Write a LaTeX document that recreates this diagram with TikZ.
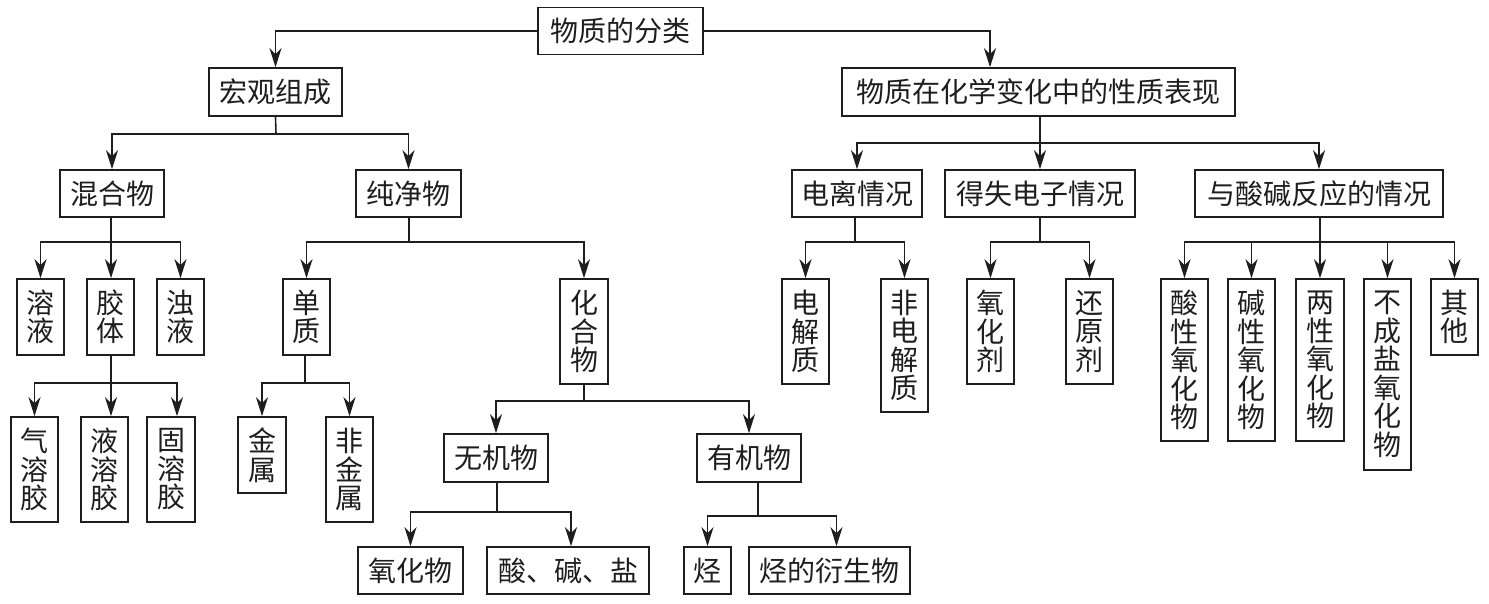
\documentclass[tikz,border=0pt]{standalone}
\usepackage{fontspec}
\setmainfont{Noto Sans CJK SC}
\usetikzlibrary{arrows.meta}
\definecolor{ink}{HTML}{1E1E1E}
\tikzset{
  box/.style={draw=ink, line width=1.6pt, inner sep=0pt, align=center, text=ink,
     font=\fontsize{28}{28.5}\selectfont},
  conn/.style={draw=ink, line width=1.6pt},
  arr/.style={conn, -{Stealth[length=19pt,width=12pt,inset=6pt]}},
}
\begin{document}
\begin{tikzpicture}[x=1pt,y=-1pt]
\useasboundingbox (0,0) rectangle (1489,604);
% nodes
\node[box, minimum width=165pt, minimum height=47pt] (root) at (620.5,31) {物质的分类};
\node[box, minimum width=133pt, minimum height=48pt] (hg) at (275.5,92) {宏观组成};
\node[box, minimum width=393pt, minimum height=48pt] (xz) at (1038.5,92) {物质在化学变化中的性质表现};
\node[box, minimum width=104pt, minimum height=47pt] (hh) at (112,193.5) {混合物};
\node[box, minimum width=105pt, minimum height=47pt] (cj) at (408.5,193.5) {纯净物};
\node[box, minimum width=130pt, minimum height=47pt] (dl) at (857,193.5) {电离情况};
\node[box, minimum width=190pt, minimum height=47pt] (ds) at (1040,193.5) {得失电子情况};
\node[box, minimum width=248pt, minimum height=47pt] (sj) at (1319,193.5) {与酸碱反应的情况};
\node[box, minimum width=47pt, minimum height=76pt] (ry) at (40.5,317) {溶\\液};
\node[box, minimum width=47pt, minimum height=76pt] (jt) at (110.5,317) {胶\\体};
\node[box, minimum width=47pt, minimum height=76pt] (zy) at (180.5,317) {浊\\液};
\node[box, minimum width=47pt, minimum height=105pt] (qr) at (34.5,469.5) {气\\溶\\胶};
\node[box, minimum width=47pt, minimum height=105pt] (yr) at (104.5,469.5) {液\\溶\\胶};
\node[box, minimum width=48pt, minimum height=105pt] (gr) at (171,469.5) {固\\溶\\胶};
\node[box, minimum width=47pt, minimum height=76pt] (dz) at (306.5,317) {单\\质};
\node[box, minimum width=48pt, minimum height=76pt] (js) at (262,455) {金\\属};
\node[box, minimum width=47pt, minimum height=105pt] (fj) at (349.5,469.5) {非\\金\\属};
\node[box, minimum width=48pt, minimum height=105pt] (hw) at (584,331.5) {化\\合\\物};
\node[box, minimum width=104pt, minimum height=48pt] (wj) at (496,458) {无机物};
\node[box, minimum width=104pt, minimum height=48pt] (yj) at (749,458) {有机物};
\node[box, minimum width=105pt, minimum height=47pt] (yh) at (410.5,570.5) {氧化物};
\node[box, minimum width=162pt, minimum height=47pt] (sjy) at (568,570.5) {酸、碱、盐};
\node[box, minimum width=47pt, minimum height=47pt] (ting) at (707.5,570.5) {烃};
\node[box, minimum width=161pt, minimum height=47pt] (tys) at (829.5,570.5) {烃的衍生物};
\node[box, minimum width=47pt, minimum height=105pt] (djz) at (805.5,331.5) {电\\解\\质};
\node[box, minimum width=47pt, minimum height=133pt] (fdj) at (904.5,345.5) {非\\电\\解\\质};
\node[box, minimum width=47pt, minimum height=105pt] (yhj) at (990.5,331.5) {氧\\化\\剂};
\node[box, minimum width=47pt, minimum height=105pt] (hyj) at (1089.5,331.5) {还\\原\\剂};
\node[box, minimum width=47pt, minimum height=162pt] (sx) at (1184.5,360) {酸\\性\\氧\\化\\物};
\node[box, minimum width=47pt, minimum height=162pt] (jx) at (1251.5,360) {碱\\性\\氧\\化\\物};
\node[box, minimum width=48pt, minimum height=162pt] (lx) at (1320,360) {两\\性\\氧\\化\\物};
\node[box, minimum width=47pt, minimum height=191pt] (bc) at (1387.5,374.5) {不\\成\\盐\\氧\\化\\物};
\node[box, minimum width=47pt, minimum height=76pt] (qt) at (1454.5,317) {其\\他};
% junctions
\coordinate (jhg) at (276,134);
\coordinate (jxz) at (1040,143);
\coordinate (jhh) at (111,242);
\coordinate (jcj) at (409,242);
\coordinate (jdl) at (855,242);
\coordinate (jds) at (1040,242);
\coordinate (jsj) at (1320,242);
\coordinate (jjt) at (111,383);
\coordinate (jdz) at (305,383);
\coordinate (jhw) at (584,401);
\coordinate (jwj) at (497,512);
\coordinate (jyj) at (758,516);
% connectors
\draw[arr] (root.west) -| (hg.north);
\draw[arr] (root.east) -| ([xshift=-48.5pt]xz.north);
\draw[conn] (hg.south) -- (jhg);
\draw[arr] (jhg) -| (hh.north);
\draw[arr] (jhg) -| (cj.north);
\draw[conn] (xz.south -| jxz) -- (jxz);
\draw[arr] (jxz) -| (dl.north);
\draw[arr] (jxz) -- (ds.north);
\draw[arr] (jxz) -| (sj.north);
\draw[conn] (jhh |- hh.south) -- (jhh);
\draw[arr] (jhh) -| (ry.north);
\draw[arr] (jhh) -- (jhh |- jt.north);
\draw[arr] (jhh) -| (zy.north);
\draw[conn] (jjt |- jt.south) -- (jjt);
\draw[arr] (jjt) -| (qr.north);
\draw[arr] (jjt) -- (jjt |- yr.north);
\draw[arr] (jjt) -| ([xshift=6pt]gr.north);
\draw[conn] (jcj |- cj.south) -- (jcj);
\draw[arr] (jcj) -| (dz.north);
\draw[arr] (jcj) -| (hw.north);
\draw[conn] (jdz |- dz.south) -- (jdz);
\draw[arr] (jdz) -| (js.north);
\draw[arr] (jdz) -| (fj.north);
\draw[conn] (hw.south) -- (jhw);
\draw[arr] (jhw) -| (wj.north);
\draw[arr] (jhw) -| (yj.north);
\draw[conn] (jwj |- wj.south) -- (jwj);
\draw[arr] (jwj) -| (yh.north);
\draw[arr] (jwj) -| ([xshift=3pt]sjy.north);
\draw[conn] (jyj |- yj.south) -- (jyj);
\draw[arr] (jyj) -| (ting.north);
\draw[arr] (jyj) -| ([xshift=7pt]tys.north);
\draw[conn] (jdl |- dl.south) -- (jdl);
\draw[arr] (jdl) -| (djz.north);
\draw[arr] (jdl) -| (fdj.north);
\draw[conn] (ds.south) -- (jds);
\draw[arr] (jds) -| (yhj.north);
\draw[arr] (jds) -| (hyj.north);
\draw[conn] (jsj |- sj.south) -- (jsj);
\draw[arr] (jsj) -| (sx.north);
\draw[arr] (jsj) -| (jx.north);
\draw[arr] (jsj) -- (lx.north);
\draw[arr] (jsj) -| (bc.north);
\draw[arr] (jsj) -| (qt.north);
\end{tikzpicture}
\end{document}
